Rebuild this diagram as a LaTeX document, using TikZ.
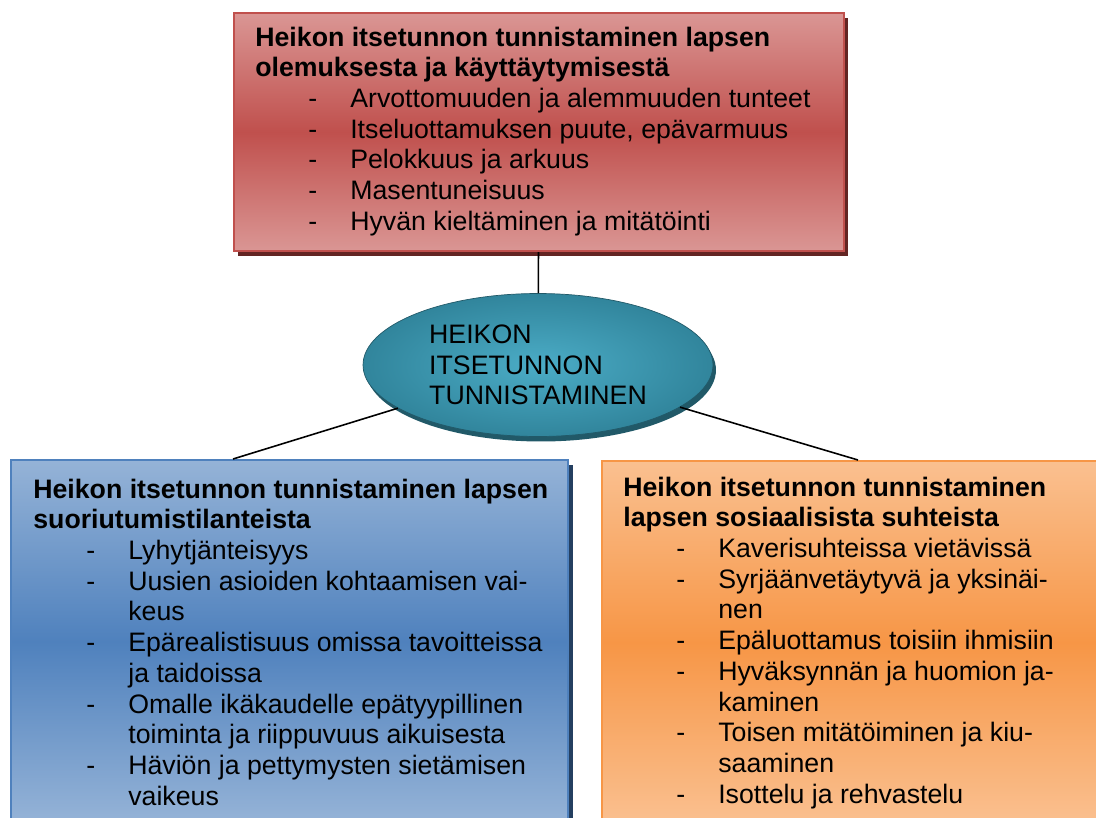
\documentclass[tikz,border=0pt]{standalone}
\usepackage{fontspec}
\setmainfont{Liberation Sans}
\usetikzlibrary{positioning, shapes.geometric, shadows}

\definecolor{redlight}{HTML}{DA9694}
\definecolor{redmid}{HTML}{C0504D}
\definecolor{redshadow}{HTML}{632523}
\definecolor{bluelight}{HTML}{95B3D7}
\definecolor{bluemid}{HTML}{4F81BD}
\definecolor{blueshadow}{HTML}{243F60}
\definecolor{orangelight}{HTML}{FAC090}
\definecolor{orangemid}{HTML}{F79646}
\definecolor{orangeshadow}{HTML}{984807}
\definecolor{tealin}{HTML}{4BACC6}
\definecolor{tealout}{HTML}{31859C}
\definecolor{tealshadow}{HTML}{215968}

% list lines: dash item and continuation
\newcommand{\itm}[1]{\hspace*{1.06cm}\makebox[0.84cm][l]{-}#1}
\newcommand{\cnt}[1]{\hspace*{1.9cm}#1}

\tikzset{
  infobox/.style={rectangle, inner sep=0pt, line width=1.2pt, anchor=north west},
  boxtext/.style={inner sep=0pt, align=left, font=\fontsize{15.2pt}{17.47pt}\selectfont},
  connector/.style={line width=0.9pt, black},
}

\begin{document}
\begin{tikzpicture}[x=0.02cm, y=-0.02cm]
  \useasboundingbox (0,0) rectangle (1096,818);
  \clip (0,0) rectangle (1096,818);

  % boxes
  \node[infobox, minimum width=12.2cm, minimum height=4.76cm, draw=redmid,
    top color=redlight, bottom color=redlight, middle color=redmid,
    drop shadow={shadow xshift=0.08cm, shadow yshift=-0.1cm, fill=redshadow, opacity=1}]
    (olemus) at (233,12) {};
  \node[infobox, minimum width=11.14cm, minimum height=7.26cm, draw=bluemid,
    top color=bluelight, bottom color=bluelight, middle color=bluemid,
    drop shadow={shadow xshift=0.1cm, shadow yshift=-0.1cm, fill=blueshadow, opacity=1}]
    (suoritus) at (10,459) {};
  \node[infobox, minimum width=10cm, minimum height=7.26cm, draw=orangemid,
    top color=orangelight, bottom color=orangelight, middle color=orangemid,
    drop shadow={shadow xshift=0.1cm, shadow yshift=-0.1cm, fill=orangeshadow, opacity=1}]
    (sosiaali) at (601,460) {};

  \node[ellipse, minimum width=7cm, minimum height=2.86cm, draw=tealshadow,
    inner color=tealin, outer color=tealout, boxtext,
    drop shadow={shadow xshift=0.06cm, shadow yshift=-0.1cm, fill=tealshadow, opacity=1}]
    (keskus) at (538,365) {HEIKON\\ITSETUNNON\\TUNNISTAMINEN};

  % texts
  \node[boxtext, below right=0.29cm and 0.44cm of olemus.north west] (olemusTxt)
    {\textbf{Heikon itsetunnon tunnistaminen lapsen}\\
     \textbf{olemuksesta ja käyttäytymisestä}\\
     \itm{Arvottomuuden ja alemmuuden tunteet}\\
     \itm{Itseluottamuksen puute, epävarmuus}\\
     \itm{Pelokkuus ja arkuus}\\
     \itm{Masentuneisuus}\\
     \itm{Hyvän kieltäminen ja mitätöinti}};
  \node[boxtext, below right=0.39cm and 0.46cm of suoritus.north west] (suoritusTxt)
    {\textbf{Heikon itsetunnon tunnistaminen lapsen}\\
     \textbf{suoriutumistilanteista}\\
     \itm{Lyhytjänteisyys}\\
     \itm{Uusien asioiden kohtaamisen vai-}\\
     \cnt{keus}\\
     \itm{Epärealistisuus omissa tavoitteissa}\\
     \cnt{ja taidoissa}\\
     \itm{Omalle ikäkaudelle epätyypillinen}\\
     \cnt{toiminta ja riippuvuus aikuisesta}\\
     \itm{Häviön ja pettymysten sietämisen}\\
     \cnt{vaikeus}};
  \node[boxtext, below right=0.33cm and 0.44cm of sosiaali.north west] (sosiaaliTxt)
    {\textbf{Heikon itsetunnon tunnistaminen}\\
     \textbf{lapsen sosiaalisista suhteista}\\
     \itm{Kaverisuhteissa vietävissä}\\
     \itm{Syrjäänvetäytyvä ja yksinäi-}\\
     \cnt{nen}\\
     \itm{Epäluottamus toisiin ihmisiin}\\
     \itm{Hyväksynnän ja huomion ja-}\\
     \cnt{kaminen}\\
     \itm{Toisen mitätöiminen ja kiu-}\\
     \cnt{saaminen}\\
     \itm{Isottelu ja rehvastelu}};

  % connectors
  \coordinate (suoritusLiitos) at (233,459);
  \coordinate (sosiaaliLiitos) at (858,460);
  \draw[connector] (olemus) -- (keskus);
  \draw[connector] (keskus) -- (suoritusLiitos);
  \draw[connector] (keskus) -- (sosiaaliLiitos);
\end{tikzpicture}
\end{document}
